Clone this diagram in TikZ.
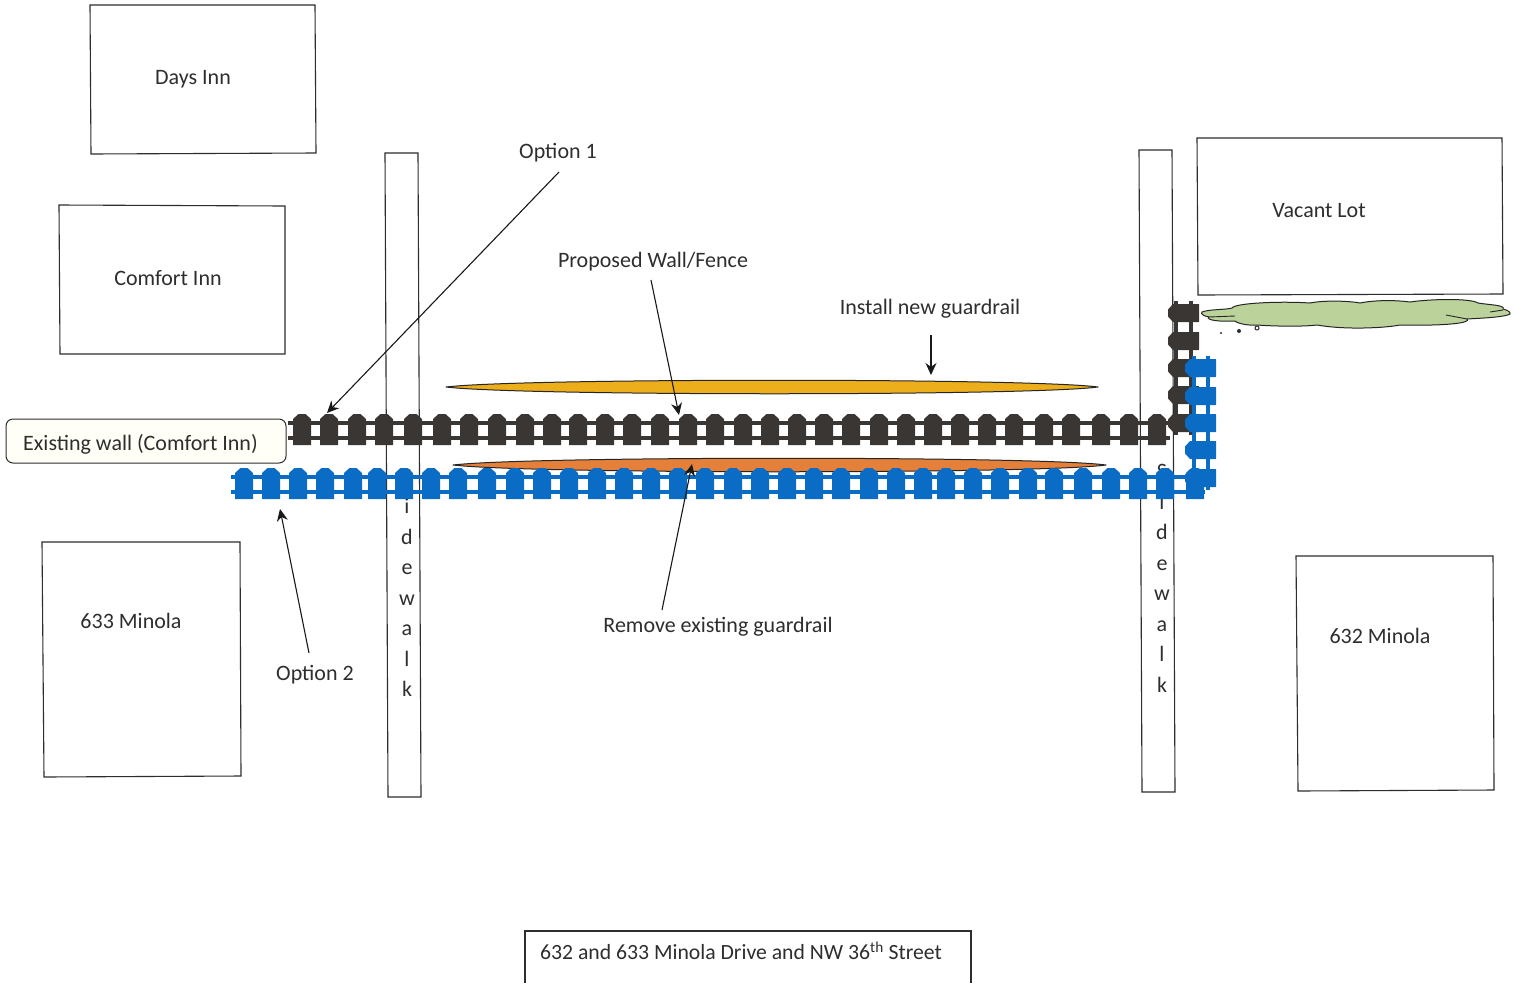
\documentclass[tikz,border=0pt]{standalone}
\usepackage{fontspec}
\setmainfont{Carlito}
\usetikzlibrary{arrows.meta}
\definecolor{ink}{HTML}{2E2E2E}
\definecolor{wallc}{HTML}{3A3633}
\definecolor{bluec}{HTML}{0A6CC4}
\definecolor{yellowc}{HTML}{EDAE1C}
\definecolor{orangec}{HTML}{E5803A}
\definecolor{greenc}{HTML}{BBD39B}
\tikzset{
  box/.style={draw=ink,line width=1.1pt,fill=white},
  lbl/.style={font=\fontsize{22}{26}\selectfont,text=ink,inner sep=0pt},
  walk/.style={font=\fontsize{22}{30.5}\selectfont,text=ink,inner sep=0pt,align=center,anchor=north},
  conn/.style={draw=black!90,line width=1.1pt,-{Stealth[length=12pt,width=11pt]}},
  lens/.style={draw=black!85,line width=1pt,line join=round},
  rail/.style={line width=3.6pt},
}
\newcommand{\uppicket}[3]{% x, top, colour
  \fill[#3,rounded corners=.4pt] ({#1-9},{#2+31})--({#1+9},{#2+31})--({#1+9},{#2+5})--({#1+3.5},{#2})--({#1-3.5},{#2})--({#1-9},{#2+5})--cycle;}
\newcommand{\leftpicket}[4]{% left, y, colour, width
  \fill[#3,rounded corners=.4pt] ({#1+#4},{#2-9})--({#1+#4},{#2+9})--({#1+5},{#2+9})--({#1},{#2+3.5})--({#1},{#2-3.5})--({#1+5},{#2-9})--cycle;}
\begin{document}
\begin{tikzpicture}[x=1pt,y=-1pt]
\useasboundingbox (0,0) rectangle (1525,983);
\fill[white] (0,0) rectangle (1525,983);
% buildings
\draw[box] (90,5)--(315,5)--(316,153)--(91,154)--cycle;
\draw[box] (59,205)--(285,206)--(285,354)--(60,354)--cycle;
\draw[box] (42,542)--(240,542)--(241,776)--(44,777)--cycle;
\draw[box] (1296,556)--(1493,556)--(1494,790)--(1298,791)--cycle;
\draw[box] (1197,138)--(1502,138)--(1503,294)--(1198,295)--cycle;
\node[lbl] (days) at (193,79) {Days Inn};
\node[lbl] (comfort) at (168,278.5) {Comfort Inn};
\node[lbl] (m633) at (131,621) {633 Minola};
\node[lbl] (m632) at (1380,636) {632 Minola};
\node[lbl] (vacant) at (1319,210.5) {Vacant Lot};
% sidewalks
\draw[box] (385,153)--(418,153)--(421,797)--(388,797)--cycle;
\draw[box] (1139,150)--(1172,150)--(1175,792)--(1142,792)--cycle;
\node[walk] (walkL) at (407,469) {S\\i\\d\\e\\w\\a\\l\\k};
\node[walk] (walkR) at (1162,464.5) {S\\i\\d\\e\\w\\a\\l\\k};
% lenses
\draw[lens,fill=yellowc] (446,387) .. controls (520,378) and (1030,378) .. (1098,387) .. controls (1030,396) and (520,396) .. (446,387) -- cycle;
\draw[lens,fill=orangec] (453,465) .. controls (530,456) and (1040,456) .. (1106,465) .. controls (1040,474) and (530,474) .. (453,465) -- cycle;
% cloud
\draw[draw=black!85,line width=1pt,fill=greenc] (1202,312)
 .. controls (1210,309) and (1225,310) .. (1232,308)
 .. controls (1235,303) and (1280,301) .. (1310,303)
 .. controls (1325,300) and (1350,301) .. (1360,303)
 .. controls (1375,300) and (1395,300) .. (1410,302)
 .. controls (1430,299) and (1470,298) .. (1478,303)
 .. controls (1490,305) and (1505,305) .. (1503,309)
 .. controls (1507,310) and (1511,312) .. (1510,314)
 .. controls (1505,317) and (1485,318) .. (1467,319)
 .. controls (1472,323) and (1445,326) .. (1400,325)
 .. controls (1385,328) and (1345,330) .. (1317,325)
 .. controls (1300,327) and (1270,326) .. (1257,325)
 .. controls (1245,326) and (1235,322) .. (1235,321)
 .. controls (1220,322) and (1205,320) .. (1209,317)
 .. controls (1204,316) and (1200,314) .. (1202,312) -- cycle;
\draw[black!85,line width=.9pt] (1209,317)--(1235,316) (1446,315)--(1467,319) (1490,312)--(1503,310);
\fill[ink] (1221,333) circle (1.2pt) (1239,331) circle (2pt);
\draw[ink,line width=1pt] (1257,328) circle (2pt);
% side black fence
\draw[wallc,rail] (1176,301)--(1176,435) (1191,301)--(1191,435);
\foreach \y in {313,341,368,395,423} {\leftpicket{1168}{\y}{wallc}{31}}
% top black fence
\draw[wallc,rail] (288,423)--(1170,423) (288,438)--(1170,438);
\foreach \x in {302,329,357,384,413,442,469,497,525,552,578,605,632,660,688,715,743,770,797,824,851,879,906,933,960,987,1014,1044,1071,1101,1129,1157} {\uppicket{\x}{414}{wallc}}
% blue fence
\draw[bluec,rail] (231,477)--(1205,477) (231,492)--(1205,492);
\foreach \x in {244,271,298,325,353,377,404,431,458,487,515,542,569,597,624,651,678,705,733,760,787,814,841,869,896,923,946,973,1000,1028,1054,1083,1111,1138,1165,1195} {\uppicket{\x}{468}{bluec}}
\draw[bluec,rail] (1194,356)--(1194,490) (1208,356)--(1208,490);
\foreach \y in {368,396,423,450,478} {\leftpicket{1185}{\y}{bluec}{31}}
% labels
\node[draw=ink,line width=1pt,fill=white!97!yellow,rounded corners=7pt,minimum width=280pt,minimum height=44pt,lbl] (wall) at (146,441) {};
\node[lbl] (walltext) at (140.5,444) {Existing wall (Comfort Inn)};
\node[lbl] (opt1) at (558,153) {Option 1};
\node[lbl] (opt2) at (315,675) {Option 2};
\node[lbl] (prop) at (653,262) {Proposed Wall/Fence};
\node[lbl] (inst) at (930,309) {Install new guardrail};
\node[lbl] (rem) at (718,627) {Remove existing guardrail};
% connector ends
\coordinate (a1s) at (559,172); \coordinate (a1e) at (327,413);
\coordinate (a2s) at (309,653); \coordinate (a2e) at (280,509);
\coordinate (a3s) at (651,280); \coordinate (a3e) at (679,415);
\coordinate (a4s) at (931,335); \coordinate (a4e) at (931,375);
\coordinate (a5s) at (662,610); \coordinate (a5e) at (692,464);
\draw[conn] (a1s)--(a1e);
\draw[conn] (a2s)--(a2e);
\draw[conn] (a3s)--(a3e);
\draw[conn] (a4s)--(a4e);
\draw[conn] (a5s)--(a5e);
% title box
\draw[draw=ink,line width=1.1pt] (525,983)--(525,931)--(971,931)--(971,983);
\node[lbl,font=\fontsize{21.7}{26}\selectfont] (title) at (741,951) {632 and 633 Minola Drive and NW 36\textsuperscript{th} Street};
\end{tikzpicture}
\end{document}
